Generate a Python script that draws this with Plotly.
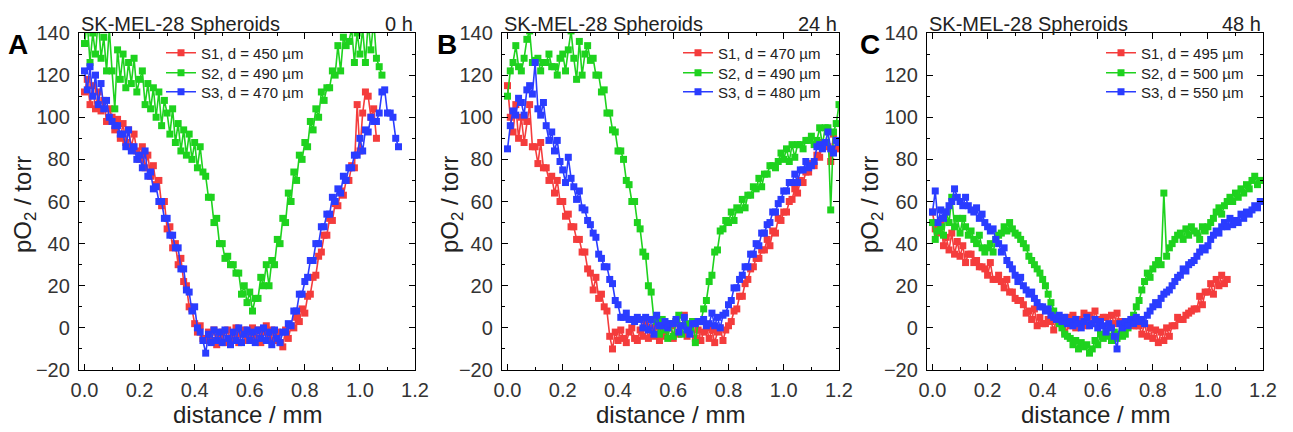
import plotly.graph_objects as go

# ---------------- data (pO2 in torr, sampled every 0.01 mm) ----------------
step_mm = 0.01

# Panel A: 0 h
a_s1 = [112,118,106,115,104,112,103,108,98,104,
        100,94,99,90,97,88,94,86,92,84,
        80,86,76,82,72,77,68,70,58,60,
        47,48,38,40,30,33,22,20,10,9,
        2,-2,1,-5,-6,-2,-6,-1,-8,-4,
        -2,-7,-1,-6,-3,0,-7,-3,-1,-6,
        -3,0,-5,-1,-7,-2,1,-5,-1,-6,
        -2,-7,-9,-1,-5,1,0,5,3,9,
        7,15,16,24,25,34,36,44,44,52,
        51,59,58,65,63,70,70,77,76,106,
        84,102,112,110,100,104,90]
a_s2 = [135,145,126,140,130,147,128,138,122,142,
        122,104,132,118,130,114,126,116,128,112,
        118,122,106,116,104,114,100,112,96,108,
        102,92,104,88,97,84,94,82,92,80,
        88,76,86,74,72,62,62,50,52,40,
        40,33,34,30,30,26,26,16,20,12,
        17,8,14,14,24,20,30,20,32,30,
        42,40,52,50,64,60,74,70,82,80,
        88,86,98,94,104,100,112,108,114,114,
        122,120,134,122,138,134,136,142,126,140,
        130,142,126,145,132,146,128,124,120]
a_s3 = [122,113,124,110,120,106,116,104,108,100,
        98,96,96,92,92,86,94,84,86,80,
        82,76,84,72,74,66,67,60,60,52,
        52,44,44,38,38,28,28,18,17,8,
        10,0,-2,-6,-12,-3,-7,-1,-6,-2,
        -7,-1,-5,-8,-2,-6,0,-7,-3,-1,
        -6,-2,-7,-1,-5,0,-6,-2,-8,-1,
        -5,-7,-2,-2,2,1,8,8,16,16,
        22,24,32,32,40,40,48,48,54,54,
        62,60,66,64,72,70,76,76,82,82,
        90,84,94,93,100,98,98,102,112,113,
        102,102,100,90,86]

# Panel B: 24 h
b_s1 = [115,100,93,106,90,100,88,98,106,86,
        86,78,88,76,76,70,72,64,70,60,
        60,53,54,48,48,42,42,36,36,28,
        26,18,24,14,16,10,8,-4,-10,-2,
        -6,-1,-5,-7,-2,0,-5,-6,-1,-4,
        3,-5,0,-4,1,-6,-1,-4,0,1,
        -5,3,-3,1,6,-4,0,3,-5,-1,
        -6,-2,0,-5,-1,-7,-2,0,-6,-1,
        1,3,8,9,15,15,21,23,28,29,
        33,33,37,37,42,39,46,45,52,51,
        55,55,60,61,66,64,70,69,74,74,
        78,77,82,81,88,87,86,79,92,85,
        86]
b_s2 = [110,122,126,134,124,122,128,137,141,126,
        127,128,122,126,126,130,124,124,120,128,
        130,122,132,141,128,118,136,120,130,134,
        127,128,120,120,112,113,102,102,94,93,
        84,84,80,70,68,60,60,50,47,36,
        34,20,17,4,3,-3,4,-1,-5,2,
        -4,3,6,-3,1,2,0,3,-7,3,
        3,9,13,22,25,36,37,46,47,51,
        50,55,51,57,56,61,57,63,63,67,
        66,71,67,73,73,77,77,76,79,83,
        80,85,79,87,81,87,87,85,89,89,
        91,87,89,95,87,95,95,56,93,97,
        106]
b_s3 = [85,96,103,101,109,107,101,113,115,111,
        126,104,101,107,96,89,93,84,89,79,
        75,69,81,71,67,61,65,57,56,51,
        49,45,43,35,33,29,29,23,21,13,
        11,5,5,7,4,4,3,5,4,0,
        5,-1,4,-3,6,1,1,3,0,2,
        2,4,-2,1,5,-1,-3,2,2,3,
        3,4,1,2,7,1,5,0,6,7,
        11,13,19,19,23,25,29,29,35,35,
        40,39,45,45,49,50,55,55,59,61,
        65,65,69,69,73,69,75,75,79,76,
        77,79,86,87,85,88,93,85,83,89,
        88]

# Panel C: 48 h
c_s1 = [55,47,45,51,39,43,37,45,35,41,
        34,39,31,35,35,31,32,29,29,28,
        25,31,23,23,25,22,19,23,17,17,
        14,13,13,11,7,8,4,9,1,5,
        2,2,4,3,-1,4,5,3,-2,5,
        1,6,0,4,3,7,1,6,2,8,
        4,4,5,5,1,6,2,7,3,3,
        2,2,3,1,1,1,-3,2,-4,0,
        -5,-1,-7,-2,-6,0,-4,1,1,5,
        4,4,6,7,8,9,9,15,11,17,
        17,21,16,23,20,25,21,23]
c_s2 = [50,42,46,48,44,55,50,62,48,52,
        45,52,48,44,46,42,40,44,38,36,
        38,40,36,42,44,45,48,46,50,47,
        45,44,42,40,38,34,32,30,28,26,
        23,20,16,12,8,5,2,0,-3,-4,
        -5,-8,-6,-10,-7,-9,-8,-12,-10,-6,
        -8,-3,-5,-2,-4,-6,-2,-5,-3,-4,
        -3,0,3,6,10,13,18,22,26,24,
        28,30,32,30,64,34,38,40,42,44,
        45,42,47,44,48,46,45,42,48,46,
        48,50,52,55,57,54,58,60,62,60,
        64,62,66,64,68,66,70,72,68,70,
        70]
c_s3 = [55,65,50,56,52,55,58,60,66,62,
        60,58,62,58,56,55,57,52,54,50,
        48,46,47,42,40,36,38,32,30,28,
        25,22,24,20,18,16,17,14,12,10,
        10,8,9,6,5,4,6,3,5,2,
        3,1,4,2,0,3,5,1,2,4,
        0,3,1,-2,2,0,-4,-10,2,0,
        3,1,4,2,5,3,4,2,6,8,
        10,12,11,14,16,17,18,20,22,24,
        25,28,27,30,31,32,34,36,38,37,
        39,42,44,46,45,48,50,48,52,49,
        51,50,54,52,55,54,56,58,57,60,
        60]

panel_letters = ["A", "B", "C"]
panel_times = ["0 h", "24 h", "48 h"]
panel_title = "SK-MEL-28 Spheroids"
x_title = "distance / mm"
y_title = "pO<sub>2</sub> / torr"
series_names = [
    ["S1, d = 450 µm", "S2, d = 490 µm", "S3, d = 470 µm"],
    ["S1, d = 470 µm", "S2, d = 490 µm", "S3, d = 480 µm"],
    ["S1, d = 495 µm", "S2, d = 500 µm", "S3, d = 550 µm"],
]
panel_data = [[a_s1, a_s2, a_s3], [b_s1, b_s2, b_s3], [c_s1, c_s2, c_s3]]
x_ticks = [0.0, 0.2, 0.4, 0.6, 0.8, 1.0, 1.2]
y_ticks = [-20, 0, 20, 40, 60, 80, 100, 120, 140]

# ---------------- styling / layout ----------------
W, H = 1293, 432
colors = ["#f43c3c", "#1ed21e", "#2a3cff"]
font_family = "Arial, Liberation Sans, sans-serif"
px_x = [(79, 415), (502, 839), (927, 1263)]   # plot areas (left, right) in px
px_top, px_bot = 33, 370
legend_left = [161, 678, 1101]
legend_rows = [53, 73, 92]
ytitle_x = [25, 452, 872]
letter_x = [18, 447, 870]

fig = go.Figure()
for p in range(3):
    ax = "" if p == 0 else str(p + 1)
    for s in range(3):
        ys = panel_data[p][s]
        xs = [round(i * step_mm, 3) for i in range(len(ys))]
        k = p * 3 + s + 1
        fig.add_trace(go.Scatter(
            x=xs, y=ys, mode="lines+markers", name=series_names[p][s],
            line=dict(color=colors[s], width=1.6),
            marker=dict(symbol="square", size=7, color=colors[s]),
            xaxis="x" + ax, yaxis="y" + ax,
            legend="legend" if k == 1 else "legend" + str(k),
        ))

layout = dict(
    width=W, height=H, margin=dict(l=0, r=0, t=0, b=0, autoexpand=False),
    paper_bgcolor="white", plot_bgcolor="white",
    font=dict(family=font_family, color="#222"),
    annotations=[], showlegend=True,
)
for p in range(3):
    ax = "" if p == 0 else str(p + 1)
    l, r = px_x[p]
    common = dict(
        showline=True, linecolor="black", linewidth=1.3, mirror="ticks",
        ticks="inside", ticklen=6, tickwidth=1.2, tickcolor="black",
        showgrid=False, zeroline=False, automargin=False,
        tickfont=dict(size=20, color="#333"),
    )
    layout["xaxis" + ax] = dict(
        common, domain=[l / W, r / W], range=[-0.02, 1.2],
        tickvals=x_ticks, ticktext=[f"{v:.1f}" for v in x_ticks],
        minor=dict(ticks="inside", ticklen=3, tickwidth=1, tickcolor="black", dtick=0.1, tick0=0),
        anchor="y" + ax, ticklabelstandoff=2,
    )
    layout["yaxis" + ax] = dict(
        common, domain=[1 - px_bot / H, 1 - px_top / H], range=[-20, 140],
        tickvals=y_ticks,
        minor=dict(ticks="inside", ticklen=3, tickwidth=1, tickcolor="black", dtick=10, tick0=0),
        anchor="x" + ax, ticklabelstandoff=4,
    )
    for s in range(3):
        k = p * 3 + s + 1
        layout["legend" if k == 1 else "legend" + str(k)] = dict(
            x=legend_left[p] / W, y=1 - legend_rows[s] / H, xanchor="left", yanchor="middle",
            bgcolor="rgba(0,0,0,0)", borderwidth=0,
            font=dict(size=15, color="#222"), itemwidth=30,
        )
    layout["annotations"] += [
        dict(text=panel_title, xref="paper", yref="paper", x=l / W, y=1 - 24 / H,
             xanchor="left", yanchor="middle", showarrow=False, font=dict(size=20, color="#222")),
        dict(text=panel_times[p], xref="paper", yref="paper", x=r / W, y=1 - 24 / H,
             xanchor="right", yanchor="middle", showarrow=False, font=dict(size=20, color="#222")),
        dict(text="<b>" + panel_letters[p] + "</b>", xref="paper", yref="paper",
             x=letter_x[p] / W, y=1 - 45 / H, xanchor="center", yanchor="middle",
             showarrow=False, font=dict(size=28, color="black")),
        dict(text=x_title, xref="paper", yref="paper", x=(l + r) / 2 / W, y=1 - 414 / H,
             xanchor="center", yanchor="middle", showarrow=False, font=dict(size=24, color="#222")),
        dict(text=y_title, xref="paper", yref="paper", x=ytitle_x[p] / W, y=1 - 205 / H,
             xanchor="center", yanchor="middle", textangle=-90, showarrow=False,
             font=dict(size=24, color="#222")),
    ]

fig.update_layout(**layout)
fig.write_html(
    "out.html",
    config={"displayModeBar": False},
    post_script="document.body.style.margin='0';document.body.style.padding='0';"
                "document.body.style.overflow='hidden';",
)
